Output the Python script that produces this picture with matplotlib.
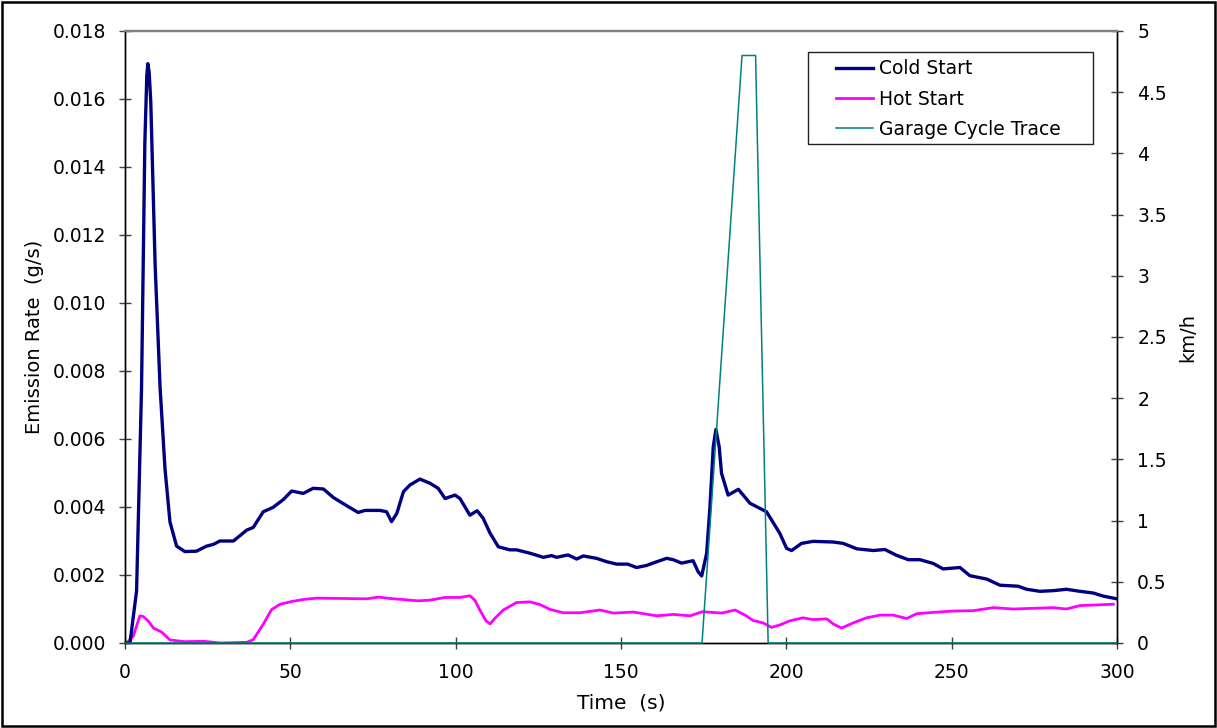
import matplotlib
matplotlib.use("Agg")
import matplotlib.pyplot as plt
from matplotlib.patches import Rectangle
from matplotlib.ticker import FormatStrFormatter, MultipleLocator

plt.rcParams['font.family'] = ['DejaVu Sans']
plt.rcParams['font.size'] = 13.5

# Cold Start emission rate (g/s)
cold_t = [0, 0.5, 1.5, 3.5, 5.0, 6.0, 6.6, 6.9, 7.3, 7.8, 9.1, 10.6, 12.1, 13.6, 15.6, 18.1, 21.6, 24.7,
          26.7, 28.7, 32.8, 36.8, 38.8, 41.8, 44.8, 47.9, 50.4, 53.9, 56.9, 60.0, 63.0, 67.0,
          70.5, 72.6, 77.1, 79.1, 80.6, 82.2, 84.2, 86.2, 89.2, 92.2, 94.7, 96.8, 99.8, 101.3,
          104.3, 106.5, 108.3, 110.4, 112.9, 116.4, 118.4, 122.5, 126.5, 129.0, 130.5, 134.0,
          136.6, 138.6, 142.6, 145.7, 148.7, 152.0, 154.7, 157.7, 160.8, 163.8, 165.8, 168.3,
          171.8, 173.3, 174.4, 175.9, 176.9, 177.9, 178.7, 179.7, 180.4, 182.4, 185.5, 189.0,
          194.0, 198.0, 200.1, 201.6, 204.6, 208.1, 214.2, 217.2, 221.3, 226.3, 229.8, 233.3,
          236.9, 240.4, 244.4, 247.4, 252.5, 255.5, 260.6, 264.6, 270.1, 272.7, 276.7, 280.8,
          284.7, 288.8, 292.8, 295.8, 299.9]
cold_v = [0.0, 0.0, 0.0, 0.00153, 0.0075, 0.0147, 0.0167, 0.01704, 0.0168, 0.0159, 0.01115, 0.00753, 0.00512,
          0.00356, 0.00285, 0.00269, 0.0027, 0.00285, 0.0029, 0.0030, 0.0030, 0.00332, 0.0034,
          0.00386, 0.00399, 0.00422, 0.00447, 0.0044, 0.00455, 0.00453, 0.00428, 0.00404,
          0.00384, 0.0039, 0.0039, 0.00386, 0.00357, 0.00381, 0.00445, 0.00465, 0.00482, 0.0047,
          0.00455, 0.00425, 0.00435, 0.00425, 0.00376, 0.00389, 0.00367, 0.00323, 0.00283,
          0.00274, 0.00274, 0.00264, 0.00252, 0.00257, 0.00252, 0.00259, 0.00247, 0.00256,
          0.00249, 0.00239, 0.00232, 0.00232, 0.00222, 0.00228, 0.00239, 0.00249, 0.00245,
          0.00235, 0.00242, 0.0021, 0.00197, 0.00264, 0.0040, 0.00577, 0.00628, 0.00577, 0.00499,
          0.00435, 0.00452, 0.00411, 0.00386, 0.00323, 0.00278, 0.00272, 0.00293, 0.00299,
          0.00297, 0.00293, 0.00277, 0.00272, 0.00275, 0.00258, 0.00245, 0.00245, 0.00234,
          0.00218, 0.00222, 0.00198, 0.00188, 0.0017, 0.00167, 0.00158, 0.00152, 0.00154,
          0.00158, 0.00152, 0.00147, 0.00138, 0.0013]

# Hot Start emission rate (g/s)
hot_t = [0, 0.5, 2.5, 4.5, 5.5, 7.0, 8.6, 11.1, 13.6, 18.0, 24.0, 28.7, 36.8, 38.8, 41.8, 44.3,
         46.9, 50.4, 53.9, 58.0, 73.1, 76.7, 80.1, 88.7, 92.2, 96.8, 101.3, 104.3, 105.8, 107.3,
         109.1, 110.4, 111.9, 114.4, 118.4, 122.5, 125.5, 128.5, 132.5, 137.6, 143.6, 147.7,
         153.7, 160.8, 165.8, 170.9, 174.6, 180.5, 184.5, 187.5, 190.0, 193.0, 195.5, 198.0,
         201.0, 205.0, 208.0, 212.2, 214.2, 216.7, 220.2, 224.2, 228.3, 232.3, 236.4, 239.4,
         244.4, 250.5, 256.5, 262.6, 268.6, 274.7, 280.7, 284.7, 288.8, 298.9]
hot_v = [0.0, 0.0, 0.0002, 0.0008, 0.00078, 0.00065, 0.00044, 0.00032, 0.00009, 0.00004,
         0.00005, 0.0, 0.00002, 0.0001, 0.00055, 0.00098, 0.00114, 0.00122, 0.00128, 0.00132,
         0.0013, 0.00135, 0.00131, 0.00124, 0.00126, 0.00134, 0.00134, 0.00139, 0.00126,
         0.00097, 0.00066, 0.00056, 0.00073, 0.00097, 0.00119, 0.00121, 0.00113, 0.00099,
         0.00089, 0.00089, 0.00097, 0.00088, 0.00091, 0.0008, 0.00084, 0.0008, 0.00092,
         0.00088, 0.00097, 0.00082, 0.00066, 0.00059, 0.00046, 0.00053, 0.00065, 0.00074,
         0.00069, 0.00071, 0.00056, 0.00044, 0.00059, 0.00074, 0.00082, 0.00082, 0.00072,
         0.00086, 0.0009, 0.00094, 0.00095, 0.00104, 0.001, 0.00102, 0.00104, 0.001, 0.0011,
         0.00114]

# Garage Cycle Trace speed (km/h)
garage_t = [0, 174.5, 186.6, 190.7, 194.5, 300]
garage_v = [0, 0, 4.8, 4.8, 0, 0]

x_ticks = [0, 50, 100, 150, 200, 250, 300]
right_ticks = [0, 0.5, 1, 1.5, 2, 2.5, 3, 3.5, 4, 4.5, 5]
right_labels = ['0', '0.5', '1', '1.5', '2', '2.5', '3', '3.5', '4', '4.5', '5']

W, H = 1217, 728
fig = plt.figure(figsize=(W / 100, H / 100), dpi=100)
ax = fig.add_axes([125 / W, 1 - 643 / H, (1117 - 125) / W, (643 - 31) / H])
ax2 = ax.twinx()

l1, = ax.plot(cold_t, cold_v, color='#000080', lw=2.4, label='Cold Start', zorder=3)
l2, = ax.plot(hot_t, hot_v, color='#FF00FF', lw=2.0, label='Hot Start', zorder=2)
l3, = ax2.plot(garage_t, garage_v, color='#008080', lw=1.1, label='Garage Cycle Trace',
               clip_on=False, zorder=3)

ax.set_xlim(0, 300)
ax.set_ylim(0, 0.018)
ax2.set_ylim(0, 5)
ax.set_xticks(x_ticks)
ax.yaxis.set_major_locator(MultipleLocator(0.002))
ax.yaxis.set_major_formatter(FormatStrFormatter('%.3f'))
ax2.set_yticks(right_ticks)
ax2.set_yticklabels(right_labels)

for a in (ax, ax2):
    a.tick_params(direction='inout', length=9, width=1, color='#404040', labelsize=13.5)
    for s in a.spines.values():
        s.set_linewidth(1.0)
        s.set_color('black')
    a.spines['top'].set_color('#808080')
    a.spines['top'].set_linewidth(1.6)
ax.tick_params(axis='x', pad=10)
ax.tick_params(axis='y', pad=9)
ax2.tick_params(axis='y', pad=10)

ax.set_xlabel('Time  (s)', fontsize=14.5, labelpad=8)
ax.set_ylabel('Emission Rate  (g/s)', fontsize=14, labelpad=6.5)
ax2.set_ylabel('km/h', fontsize=14, labelpad=8.5)

# legend frame
x0 = (808 - 125) / 992
x1 = (1093 - 125) / 992
y1 = (643 - 52) / 612
y0 = (643 - 144) / 612
ax2.add_patch(Rectangle((x0, y0), x1 - x0, y1 - y0, transform=ax2.transAxes,
                        facecolor='white', edgecolor='#202020', linewidth=1.0, zorder=4))
leg = ax2.legend(handles=[l1, l2, l3], loc='upper left',
                 bbox_to_anchor=((836 - 125) / 992, (643 - 59.5) / 612),
                 frameon=False, borderpad=0, borderaxespad=0, handlelength=1.97,
                 handletextpad=0.32, labelspacing=0.6, fontsize=13.5)
leg.set_zorder(5)

fig.patches.append(Rectangle((2 / W, 2 / H), 1 - 4 / W, 1 - 4 / H, transform=fig.transFigure,
                             fill=False, edgecolor='black', linewidth=1.8))

fig.savefig('out.png', dpi=100)
